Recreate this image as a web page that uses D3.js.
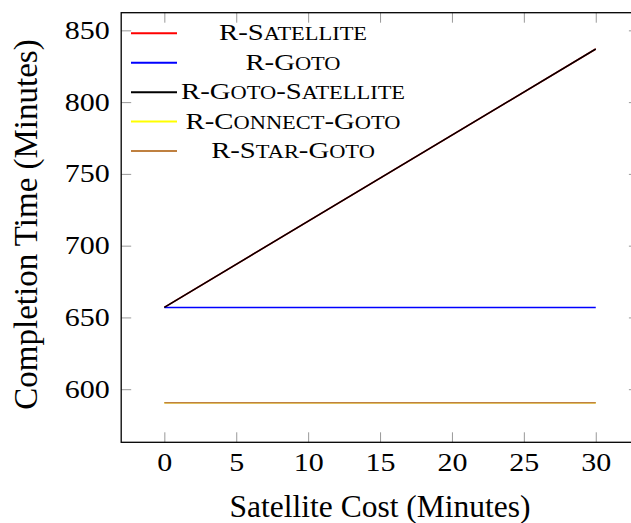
<!DOCTYPE html>
<html>
<head>
<meta charset="utf-8">
<script src="https://cdn.jsdelivr.net/npm/d3@7"></script>
<style>
  body { margin: 0; background: #fff; }
  svg text { font-family: "Liberation Serif", "DejaVu Serif", serif !important; fill: #000; }
</style>
</head>
<body>
<script>
const W = 631;
const H = 523;

// data
const satelliteCost = [0, 30];
const rSatellite = [657, 837];
const rGoto = [657, 657];
const rGotoSatellite = [657, 837];
const rConnectGoto = [590.5, 590.5];
const rStarGoto = [590.5, 590.5];

const seriesNames = ["R-Satellite", "R-Goto", "R-Goto-Satellite", "R-Connect-Goto", "R-Star-Goto"];
const seriesValues = [rSatellite, rGoto, rGotoSatellite, rConnectGoto, rStarGoto];
const seriesColors = ["#ff0000", "#0000ff", "#000000", "#ffff00", "#bf8040"];

const xTicks = [0, 5, 10, 15, 20, 25, 30];
const yTicks = [600, 650, 700, 750, 800, 850];

const TICK_STRETCH = 1.2;
const LEGEND_STRETCH = 1.25;

const plot = { left: 121.2, right: 638.9, top: 12.7, bottom: 442.3 };

const x = d3.scaleLinear().domain([-3, 33]).range([plot.left, plot.right]);
const y = d3.scaleLinear().domain([563, 862.3]).range([plot.bottom, plot.top]);

const svg = d3.select("body")
  .append("svg")
  .attr("width", W)
  .attr("height", H)
  .attr("xmlns", "http://www.w3.org/2000/svg");

// inward grey ticks on all four sides
function tickStyle(g) {
  g.attr("font-family", null);
  g.select(".domain").remove();
  g.selectAll(".tick line").attr("stroke", "#999").attr("stroke-width", 1);
  g.selectAll("text").attr("font-size", 25);
}

svg.append("g")
  .attr("transform", `translate(0,${plot.bottom})`)
  .call(d3.axisBottom(x).tickValues(xTicks).tickSize(-10).tickPadding(11).tickFormat(d3.format("d")))
  .call(tickStyle)
  .call(g => g.selectAll("text").attr("transform", `scale(${TICK_STRETCH},1)`));

svg.append("g")
  .attr("transform", `translate(0,${plot.top})`)
  .call(d3.axisTop(x).tickValues(xTicks).tickSize(-10).tickFormat(""))
  .call(tickStyle);

svg.append("g")
  .attr("transform", `translate(${plot.left},0)`)
  .call(d3.axisLeft(y).tickValues(yTicks).tickSize(-10).tickPadding(9.5).tickFormat(d3.format("d")))
  .call(tickStyle)
  .call(g => g.selectAll("text").attr("transform", `scale(${TICK_STRETCH},1)`));

svg.append("g")
  .attr("transform", `translate(${plot.right},0)`)
  .call(d3.axisRight(y).tickValues(yTicks).tickSize(-10).tickFormat(""))
  .call(tickStyle);

// series
const line = d3.line()
  .x((d, i) => x(satelliteCost[i]))
  .y(d => y(d));

seriesValues.forEach((vals, i) => {
  svg.append("path")
    .datum(vals)
    .attr("d", line)
    .attr("fill", "none")
    .attr("stroke", seriesColors[i])
    .attr("stroke-width", 1.5);
});

// frame
svg.append("rect")
  .attr("x", plot.left)
  .attr("y", plot.top)
  .attr("width", plot.right - plot.left)
  .attr("height", plot.bottom - plot.top)
  .attr("fill", "none")
  .attr("stroke", "#000")
  .attr("stroke-width", 1.3);

// axis titles
svg.append("text")
  .attr("x", (plot.left + plot.right) / 2)
  .attr("y", 517)
  .attr("text-anchor", "middle")
  .attr("font-size", 31.5)
  .text("Satellite Cost (Minutes)");

svg.append("text")
  .attr("transform", `translate(37,${(plot.top + plot.bottom) / 2 - 3}) rotate(-90)`)
  .attr("text-anchor", "middle")
  .attr("font-size", 33)
  .text("Completion Time (Minutes)");

// legend (small caps, no frame)
function smallCaps(textSel, label, size) {
  label.match(/[a-z]+|[^a-z]+/g).forEach(run => {
    textSel.append("tspan")
      .attr("font-size", /[a-z]/.test(run) ? size * 0.78 : size)
      .text(run.toUpperCase());
  });
}

const legend = svg.append("g");
const rowY = d3.scaleLinear().domain([0, 4]).range([33.3, 151]);
seriesNames.forEach((name, i) => {
  const yy = rowY(i);
  legend.append("line")
    .attr("x1", 131).attr("x2", 177)
    .attr("y1", yy).attr("y2", yy)
    .attr("stroke", seriesColors[i])
    .attr("stroke-width", 2);
  const t = legend.append("text")
    .attr("transform", `translate(293,${yy + 7}) scale(${LEGEND_STRETCH},1)`)
    .attr("text-anchor", "middle");
  smallCaps(t, name, 23);
});
</script>
</body>
</html>
